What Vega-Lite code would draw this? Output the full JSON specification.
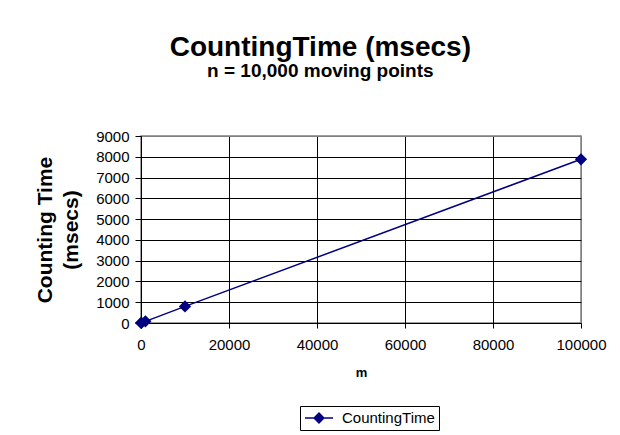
{
  "$schema": "https://vega.github.io/schema/vega-lite/v6.json",
  "autosize": {"type": "none"},
  "padding": {"left": 141, "top": 136, "right": 39, "bottom": 112},
  "width": 440,
  "height": 187,
  "background": "white",
  "title": {
    "text": "CountingTime (msecs)",
    "subtitle": "n = 10,000 moving points",
    "anchor": "middle",
    "frame": "bounds",
    "font": "Liberation Sans",
    "fontSize": 28,
    "fontWeight": "bold",
    "color": "black",
    "subtitleFont": "Liberation Sans",
    "subtitleFontSize": 19,
    "subtitleFontWeight": "bold",
    "subtitleColor": "black",
    "subtitlePadding": 0,
    "offset": 48
  },
  "data": {
    "values": [
      {"m": 10, "time": 1, "series": "CountingTime"},
      {"m": 100, "time": 8, "series": "CountingTime"},
      {"m": 1000, "time": 80, "series": "CountingTime"},
      {"m": 10000, "time": 800, "series": "CountingTime"},
      {"m": 100000, "time": 7880, "series": "CountingTime"}
    ]
  },
  "config": {
    "font": "Liberation Sans",
    "view": {"stroke": "#808080", "strokeWidth": 1.5}
  },
  "encoding": {
    "x": {
      "field": "m",
      "type": "quantitative",
      "scale": {"domain": [0, 100000], "nice": false},
      "axis": {
        "values": [0, 20000, 40000, 60000, 80000, 100000],
        "format": "d",
        "title": "m",
        "titleFontSize": 13,
        "titleFontWeight": "bold",
        "titleColor": "black",
        "titlePadding": 14,
        "labelFontSize": 15,
        "labelColor": "black",
        "labelPadding": 9,
        "labelFlush": false,
        "labelOverlap": false,
        "tickColor": "black",
        "tickSize": 5,
        "domainColor": "black",
        "gridColor": {"condition": {"test": "datum.value == 100000", "value": "#808080"}, "value": "black"},
        "gridWidth": 1
      }
    },
    "y": {
      "field": "time",
      "type": "quantitative",
      "scale": {"domain": [0, 9000], "nice": false},
      "axis": {
        "values": [0, 1000, 2000, 3000, 4000, 5000, 6000, 7000, 8000, 9000],
        "format": "d",
        "title": ["Counting Time", "(msecs)"],
        "titleFontSize": 21,
        "titleFontWeight": "bold",
        "titleColor": "black",
        "titleLineHeight": 26,
        "titlePadding": 14,
        "labelFontSize": 15,
        "labelColor": "black",
        "labelPadding": 6,
        "labelFlush": false,
        "labelOverlap": false,
        "tickColor": "black",
        "tickSize": 6,
        "domainColor": "black",
        "gridColor": {"condition": {"test": "datum.value == 9000", "value": "#808080"}, "value": "black"},
        "gridWidth": 1
      }
    },
    "color": {
      "field": "series",
      "type": "nominal",
      "scale": {"range": ["#000080"]},
      "legend": {
        "title": null,
        "orient": "none",
        "legendX": 159,
        "legendY": 270,
        "strokeColor": "black",
        "padding": 4,
        "labelFontSize": 15,
        "labelColor": "black",
        "symbolType": "M-2,0L2,0M-0.7,0L0,-0.7L0.7,0L0,0.7Z",
        "symbolSize": 196,
        "symbolOffset": 7,
        "labelOffset": 15,
        "symbolStrokeWidth": 1.5,
        "encode": {
          "symbols": {"update": {"fill": {"value": "#000080"}, "stroke": {"value": "#000080"}, "opacity": {"value": 1}}}
        }
      }
    }
  },
  "layer": [
    {
      "mark": {"type": "line", "interpolate": "monotone", "strokeWidth": 1.5}
    },
    {
      "mark": {"type": "point", "shape": "diamond", "filled": true, "size": 150, "opacity": 1}
    }
  ]
}
